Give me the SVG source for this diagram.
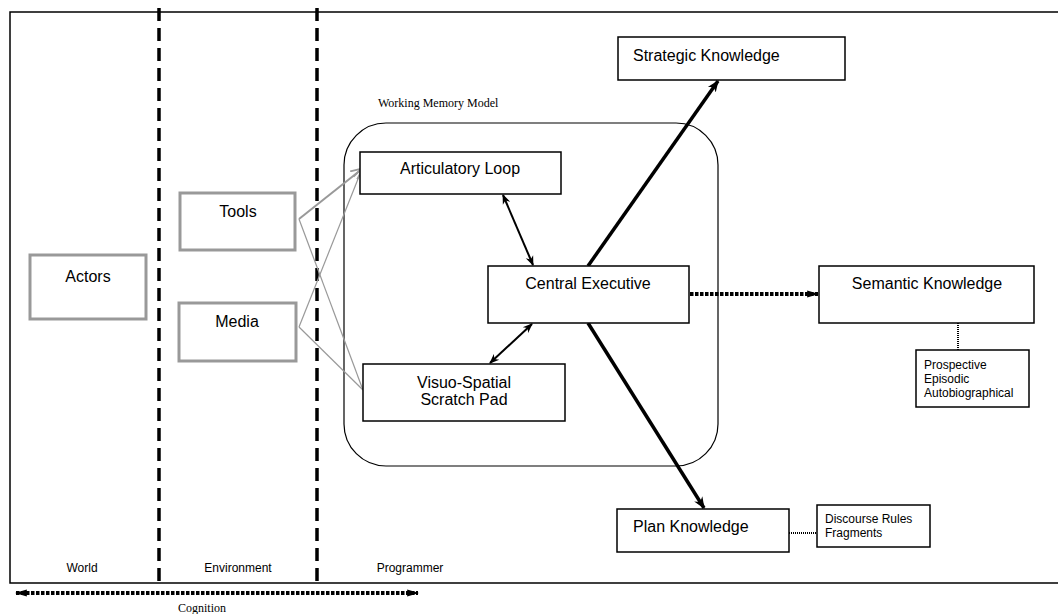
<svg xmlns="http://www.w3.org/2000/svg" width="1058" height="614" viewBox="0 0 1058 614">
<defs>
<style>
.box{fill:#fff;stroke:#000;stroke-width:1.5}
.gbox{fill:#fff;stroke:#999;stroke-width:3}
.t{font-family:"Liberation Sans",Arial,sans-serif;font-size:16px;fill:#000}
.s{font-family:"Liberation Sans",Arial,sans-serif;font-size:12px;fill:#000}
.serif{font-family:"Liberation Serif","Times New Roman",serif;font-size:12px;fill:#000}
.zone{stroke:#000;stroke-width:3.5;stroke-dasharray:13 7;fill:none}
</style>
<marker id="ah" viewBox="0 0 10 10" refX="9" refY="5" markerWidth="10" markerHeight="10" markerUnits="userSpaceOnUse" orient="auto-start-reverse">
<path d="M0,1 L10,5 L0,9 L3,5 Z" fill="#000"/>
</marker>
<marker id="ahT" viewBox="0 0 10 10" refX="9" refY="5" markerWidth="12" markerHeight="12" markerUnits="userSpaceOnUse" orient="auto">
<path d="M0,1 L10,5 L0,9 L3,5 Z" fill="#000"/>
</marker>
<marker id="ahF" viewBox="0 0 10 10" refX="9" refY="5" markerWidth="12" markerHeight="12" markerUnits="userSpaceOnUse" orient="auto-start-reverse">
<path d="M0,2 L10,5 L0,8 Z" fill="#000"/>
</marker>
<marker id="ahG" viewBox="0 0 10 10" refX="9" refY="5" markerWidth="12" markerHeight="12" markerUnits="userSpaceOnUse" orient="auto">
<path d="M0,0.5 L10,5 L0,9.5" fill="none" stroke="#999" stroke-width="1.5"/>
</marker>
</defs>

<g id="frame">
<path d="M1058,12 H10 V583 H1058" fill="none" stroke="#000" stroke-width="1.5"/>
<line class="zone" x1="159" y1="8" x2="159" y2="583"/>
<line class="zone" x1="317" y1="8" x2="317" y2="583"/>
<text class="s" x="82" y="572" text-anchor="middle">World</text>
<text class="s" x="238" y="572" text-anchor="middle">Environment</text>
<text class="s" x="410" y="572" text-anchor="middle">Programmer</text>
</g>

<g id="working-memory">
<rect x="344" y="123" width="374" height="343" rx="42" ry="42" fill="none" stroke="#000" stroke-width="1.2"/>
<text class="serif" x="378" y="107">Working Memory Model</text>
</g>

<g id="connectors">
<g stroke="#999" fill="none">
<line x1="299" y1="219" x2="362" y2="169" stroke-width="2" marker-end="url(#ahG)"/>
<line x1="299" y1="327" x2="362" y2="169" stroke-width="1.2" marker-end="url(#ahG)"/>
<line x1="299" y1="219" x2="363" y2="390" stroke-width="1.2"/>
<line x1="299" y1="327" x2="363" y2="390" stroke-width="1.2"/>
</g>
<line x1="503" y1="195" x2="533" y2="265" stroke="#000" stroke-width="2" marker-start="url(#ah)" marker-end="url(#ah)"/>
<line x1="532" y1="324" x2="490" y2="363" stroke="#000" stroke-width="2" marker-start="url(#ah)" marker-end="url(#ah)"/>
<line x1="588" y1="266" x2="718" y2="81" stroke="#000" stroke-width="3.5" marker-end="url(#ahT)"/>
<line x1="588" y1="323" x2="704" y2="508" stroke="#000" stroke-width="3.5" marker-end="url(#ahT)"/>
<line x1="690" y1="294" x2="818" y2="294" stroke="#000" stroke-width="4" stroke-dasharray="3.5 1.5" marker-end="url(#ahF)"/>
<line x1="958" y1="323" x2="958" y2="350" stroke="#000" stroke-width="2" stroke-dasharray="1 1"/>
<line x1="789" y1="533" x2="817" y2="533" stroke="#000" stroke-width="2" stroke-dasharray="1 1"/>
<line x1="16" y1="593" x2="418" y2="593" stroke="#000" stroke-width="4" stroke-dasharray="3.5 1.5" marker-start="url(#ahF)" marker-end="url(#ahF)"/>
<text class="serif" x="202" y="612" text-anchor="middle">Cognition</text>
</g>

<g id="actors">
<rect class="gbox" x="30" y="255" width="116" height="64"/>
<text class="t" x="88" y="282" text-anchor="middle">Actors</text>
</g>
<g id="tools">
<rect class="gbox" x="180" y="193" width="115" height="57"/>
<text class="t" x="238" y="217" text-anchor="middle">Tools</text>
</g>
<g id="media">
<rect class="gbox" x="179" y="303" width="117" height="58"/>
<text class="t" x="237" y="327" text-anchor="middle">Media</text>
</g>
<g id="articulatory-loop">
<rect class="box" x="360" y="152" width="201" height="42"/>
<text class="t" x="460" y="174" text-anchor="middle">Articulatory Loop</text>
</g>
<g id="central-executive">
<rect class="box" x="488" y="266" width="201" height="57"/>
<text class="t" x="588" y="289" text-anchor="middle">Central Executive</text>
</g>
<g id="visuo-spatial">
<rect class="box" x="363" y="364" width="202" height="57"/>
<text class="t" x="464" y="388" text-anchor="middle">Visuo-Spatial</text>
<text class="t" x="464" y="405" text-anchor="middle">Scratch Pad</text>
</g>
<g id="strategic-knowledge">
<rect class="box" x="618" y="37" width="227" height="43"/>
<text class="t" x="633" y="61">Strategic Knowledge</text>
</g>
<g id="semantic-knowledge">
<rect class="box" x="819" y="266" width="215" height="57"/>
<text class="t" x="927" y="289" text-anchor="middle">Semantic Knowledge</text>
</g>
<g id="memory-types">
<rect class="box" x="916" y="350" width="113" height="57"/>
<text class="s" x="924" y="369">Prospective</text>
<text class="s" x="924" y="383">Episodic</text>
<text class="s" x="924" y="397">Autobiographical</text>
</g>
<g id="plan-knowledge">
<rect class="box" x="617" y="509" width="172" height="43"/>
<text class="t" x="633" y="532">Plan Knowledge</text>
</g>
<g id="discourse">
<rect class="box" x="817" y="505" width="113" height="42"/>
<text class="s" x="825" y="523">Discourse Rules</text>
<text class="s" x="825" y="537">Fragments</text>
</g>
</svg>
